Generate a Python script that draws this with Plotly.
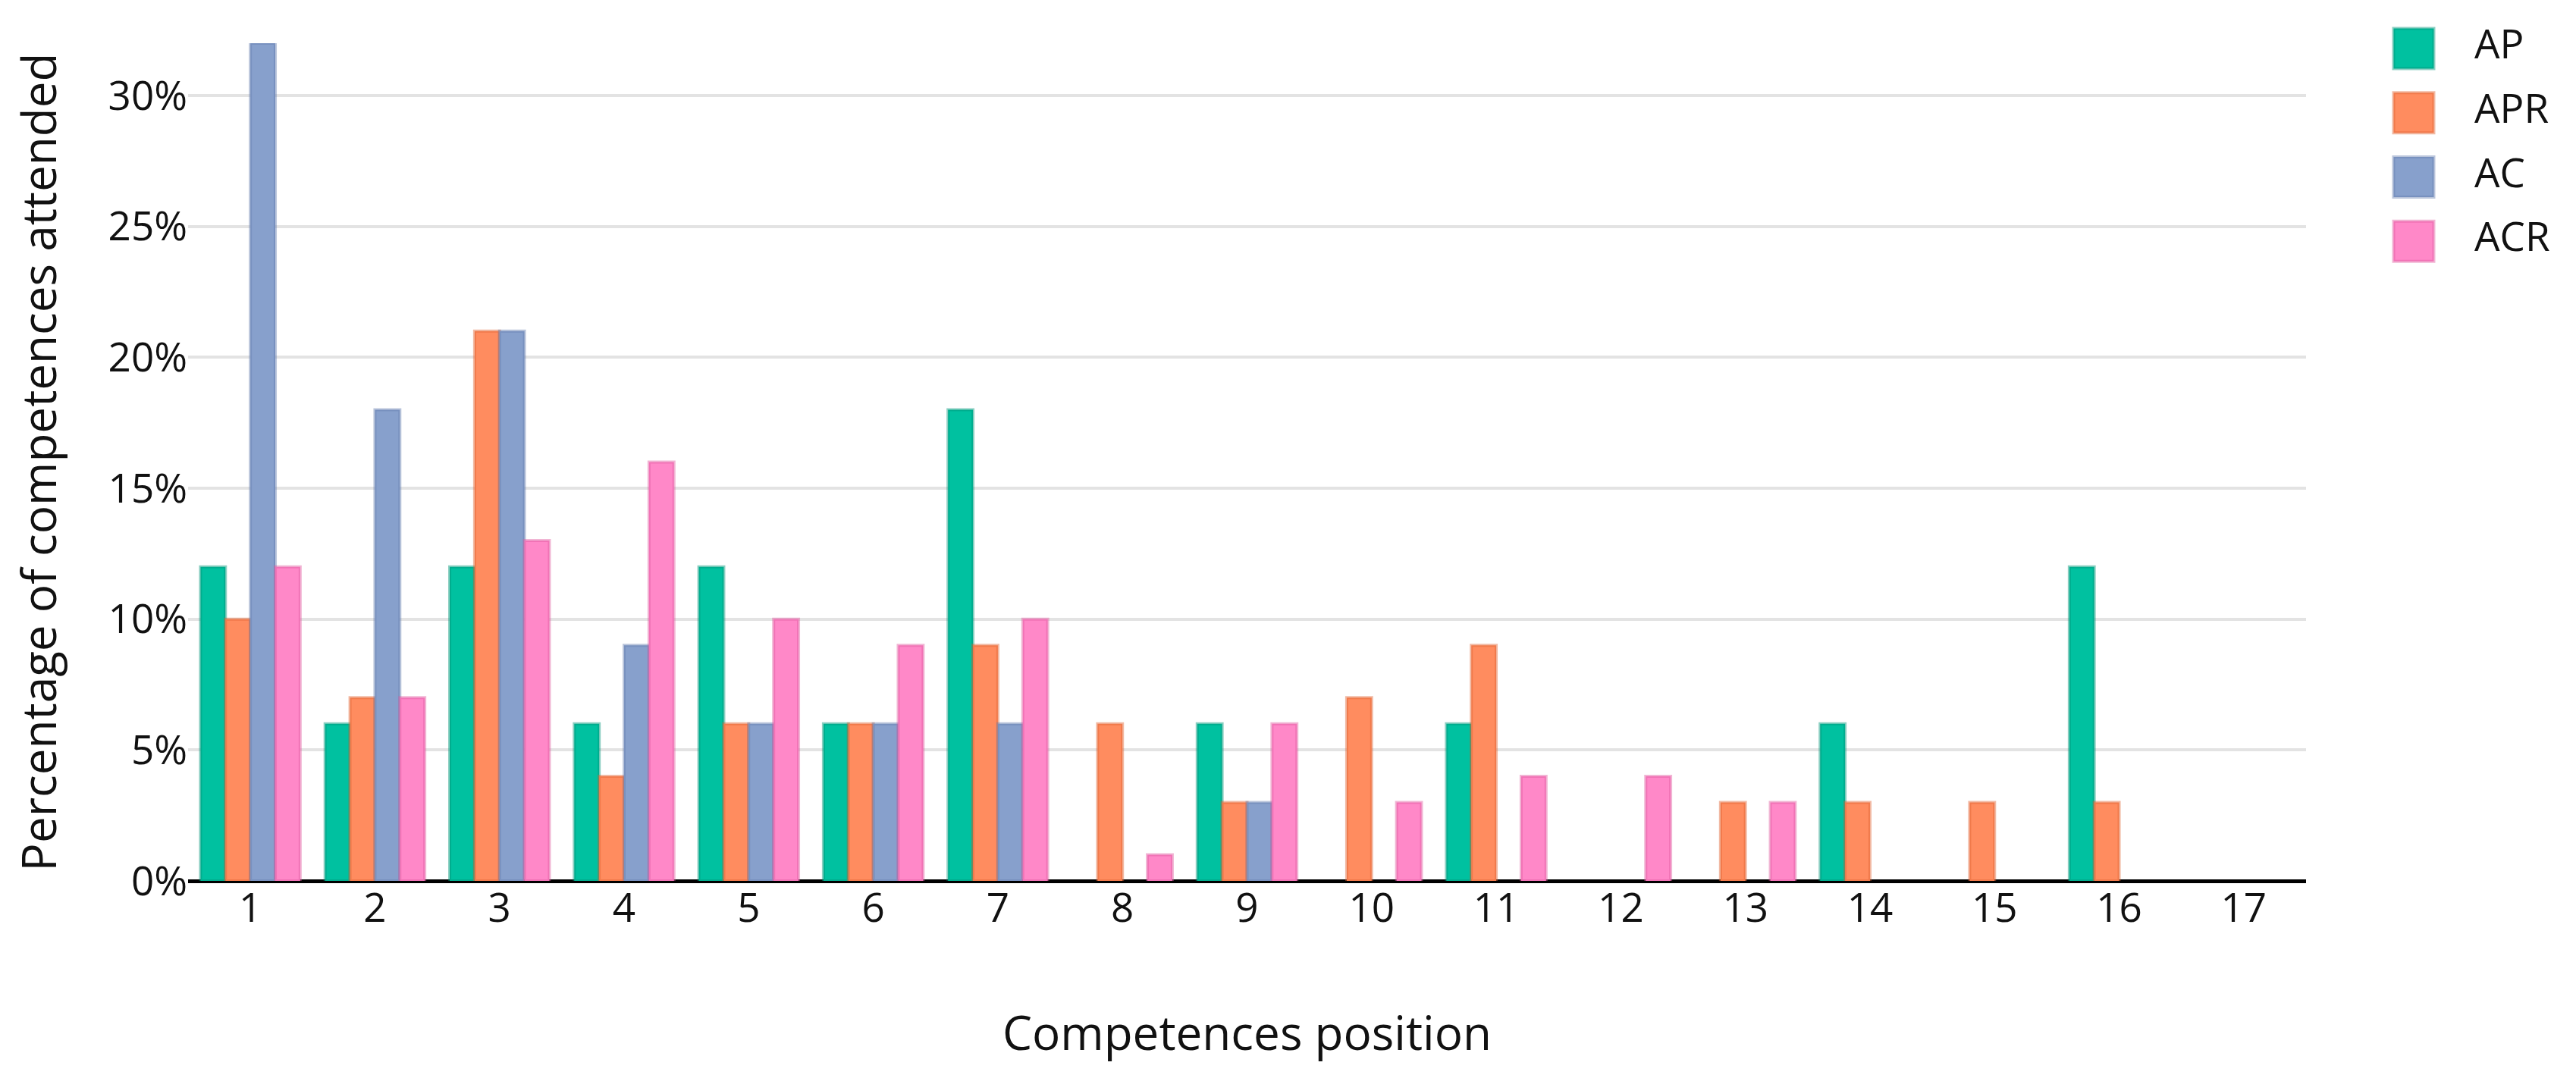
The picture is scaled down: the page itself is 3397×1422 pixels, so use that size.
import plotly.graph_objects as go

# ---- data ----
positions = [str(i) for i in range(1, 18)]
series_names = ["AP", "APR", "AC", "ACR"]
AP = [12, 6, 12, 6, 12, 6, 18, 0, 6, 0, 6, 0, 0, 6, 0, 12, 0]
APR = [10, 7, 21, 4, 6, 6, 9, 6, 3, 7, 9, 0, 3, 3, 3, 3, 0]
AC = [32, 18, 21, 9, 6, 6, 6, 0, 3, 0, 0, 0, 0, 0, 0, 0, 0]
ACR = [12, 7, 13, 16, 10, 9, 10, 1, 6, 3, 4, 4, 3, 0, 0, 0, 0]
y_tick_values = [0, 5, 10, 15, 20, 25, 30]
y_tick_labels = ["0%", "5%", "10%", "15%", "20%", "25%", "30%"]

series_values = [AP, APR, AC, ACR]
fill_colors = ["rgb(0,193,160)", "rgb(255,140,95)", "rgb(135,160,204)", "rgb(255,136,200)"]
edge_colors = ["rgba(0,148,120,0.45)", "rgba(225,100,50,0.45)",
               "rgba(102,127,175,0.45)", "rgba(225,90,160,0.45)"]

W, H = 3397, 1422
FONT = "Open Sans, Verdana, Arial, sans-serif"
TXT = "#111111"

fig = go.Figure()

for name, vals, fc, ec in zip(series_names, series_values, fill_colors, edge_colors):
    fig.add_trace(go.Bar(
        x=positions,
        y=[v if v else None for v in vals],
        name=name,
        marker=dict(color=fc, line=dict(color=ec, width=4)),
        showlegend=False,
        xaxis="x", yaxis="y",
    ))

# custom legend drawn in its own hidden axes (large squares like the reference)
idx = list(range(len(series_names)))
fig.add_trace(go.Scatter(
    x=[0] * len(series_names), y=idx, mode="markers",
    marker=dict(symbol="square", size=53, color=fill_colors,
                line=dict(color=edge_colors, width=4)),
    showlegend=False, hoverinfo="skip", xaxis="x2", yaxis="y2",
))
fig.add_trace(go.Scatter(
    x=[1] * len(series_names), y=idx, mode="text", text=series_names,
    textposition="middle right",
    textfont=dict(family=FONT, size=53, color=TXT),
    showlegend=False, hoverinfo="skip", xaxis="x2", yaxis="y2",
))

fig.update_layout(
    width=W, height=H,
    margin=dict(l=240, r=0, t=0, b=268, pad=0),
    paper_bgcolor="white", plot_bgcolor="white",
    font=dict(family=FONT, size=53, color=TXT),
    barmode="group", bargap=0.2, bargroupgap=0,
    xaxis=dict(
        type="category", domain=[0, 2793 / 3157],
        showgrid=False, showline=False, ticks="",
        tickfont=dict(size=53, color=TXT),
        title=dict(text="Competences position", font=dict(size=62, color=TXT), standoff=110),
        automargin=False,
    ),
    yaxis=dict(
        domain=[0, 1105 / 1154], range=[0, 32],
        tickvals=y_tick_values, ticktext=y_tick_labels,
        showgrid=True, gridcolor="#e3e3e3", gridwidth=4,
        zeroline=True, zerolinecolor="black", zerolinewidth=5,
        showline=False, ticks="",
        tickfont=dict(size=53, color=TXT),
        title=dict(text="Percentage of competences attended", font=dict(size=62, color=TXT), standoff=48),
        automargin=False,
    ),
    xaxis2=dict(domain=[(3100 - 240) / 3157, 1], range=[-0.9375, 2.775],
                visible=False, anchor="y2", fixedrange=True),
    yaxis2=dict(domain=[1 - 352.5 / 1154, 1 - 13.7 / 1154], range=[3.5, -0.5],
                visible=False, anchor="x2", fixedrange=True),
)

fig.write_html("out.html")
